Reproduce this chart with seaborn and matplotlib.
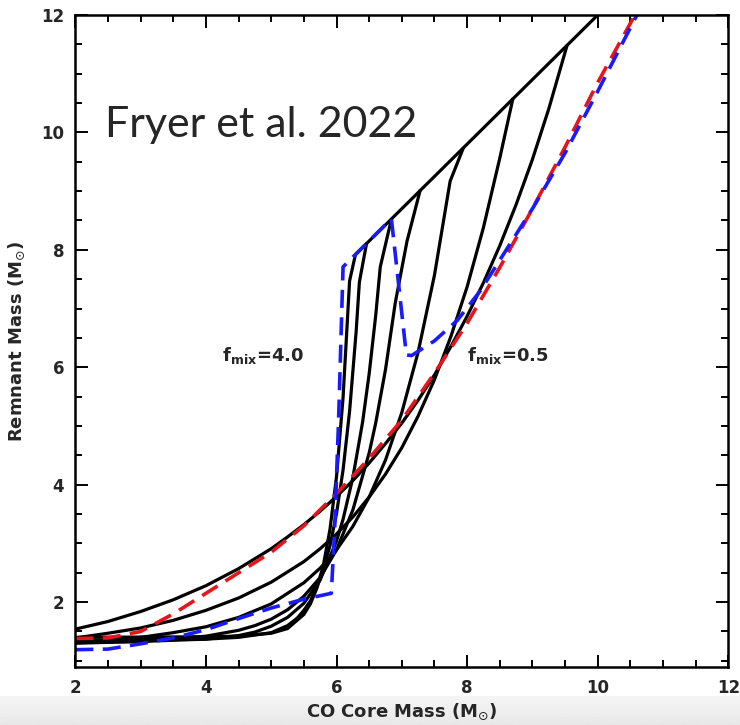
import numpy as np
import pandas as pd
import seaborn as sns
import matplotlib.pyplot as plt

# CO core mass (x) and remnant mass (y)
m_f05 = [2.0, 2.5, 3.0, 3.5, 4.0, 4.5, 5.0, 5.25, 5.5, 5.75, 6.0, 6.25, 6.5, 6.75, 7.0, 7.25,
         7.5, 7.75, 8.0, 8.25, 8.5, 8.75, 9.0, 9.25, 9.53]
r_f05 = [1.54, 1.67, 1.84, 2.04, 2.28, 2.57, 2.91, 3.11, 3.32, 3.55, 3.80, 4.07, 4.37, 4.70, 5.05, 5.44,
         5.87, 6.35, 6.87, 7.44, 8.07, 8.77, 9.54, 10.40, 11.48]

m_f07 = [2.0, 2.5, 3.0, 3.5, 4.0, 4.5, 5.0, 5.5, 5.75, 6.0, 6.25, 6.5, 6.75, 7.0, 7.25, 7.5,
         7.75, 8.0, 8.25, 8.5, 8.7]
r_f07 = [1.39, 1.47, 1.56, 1.69, 1.86, 2.07, 2.34, 2.69, 2.91, 3.16, 3.45, 3.79, 4.18, 4.63, 5.17, 5.79,
         6.52, 7.37, 8.38, 9.56, 10.57]

m_f10 = [2.0, 3.0, 3.5, 4.0, 4.5, 5.0, 5.5, 5.75, 6.0, 6.25, 6.5, 6.75, 7.0, 7.25, 7.5, 7.74, 7.94]
r_f10 = [1.31, 1.40, 1.48, 1.58, 1.74, 1.97, 2.33, 2.58, 2.89, 3.29, 3.79, 4.42, 5.23, 6.26, 7.57, 9.17, 9.73]

m_f15 = [2.0, 3.0, 4.0, 4.5, 4.75, 5.0, 5.25, 5.5, 5.75, 6.0, 6.25, 6.5, 6.6, 6.75, 6.9, 7.08, 7.28]
r_f15 = [1.30, 1.33, 1.42, 1.52, 1.60, 1.71, 1.87, 2.10, 2.42, 2.89, 3.57, 4.54, 5.05, 5.96, 7.10, 8.15, 9.01]

m_f20 = [2.0, 3.0, 4.0, 4.5, 4.75, 5.0, 5.25, 5.5, 5.75, 6.0, 6.1, 6.25, 6.4, 6.5, 6.6, 6.67, 6.84]
r_f20 = [1.31, 1.33, 1.37, 1.43, 1.49, 1.59, 1.74, 1.98, 2.38, 3.04, 3.41, 4.12, 5.07, 5.89, 6.88, 7.71, 8.52]

m_f30 = [2.0, 4.0, 4.5, 5.0, 5.25, 5.4, 5.5, 5.6, 5.75, 5.9, 6.0, 6.1, 6.2, 6.3, 6.35, 6.46]
r_f30 = [1.35, 1.37, 1.40, 1.48, 1.60, 1.73, 1.86, 2.02, 2.39, 2.96, 3.51, 4.25, 5.25, 6.60, 7.45, 8.11]

m_f40 = [2.0, 4.0, 4.5, 5.0, 5.25, 5.5, 5.6, 5.7, 5.8, 5.9, 6.0, 6.1, 6.2, 6.29]
r_f40 = [1.40, 1.41, 1.42, 1.47, 1.55, 1.79, 1.97, 2.24, 2.64, 3.24, 4.14, 5.48, 7.47, 7.92]

# upper limit (whole star collapses)
m_cap = [6.29, 10.0]
r_cap = [7.92, 12.0]

m_red = [2.0, 2.5, 3.0, 3.5, 4.0, 4.5, 5.0, 5.5, 6.0, 6.5, 7.0, 7.5, 8.0, 8.5, 9.0, 9.5, 10.0, 10.57]
r_red = [1.38, 1.39, 1.5, 1.8, 2.15, 2.5, 2.85, 3.3, 3.85, 4.45, 5.1, 5.9, 6.75, 7.7, 8.7, 9.75, 10.85, 12.0]

m_blue = [2.0, 2.5, 3.0, 3.5, 4.0, 4.5, 5.0, 5.5, 5.92, 5.97, 6.03, 6.10, 6.84, 7.07, 7.15,
          7.5, 7.85, 8.2, 8.6, 9.0, 9.5, 10.0, 10.6]
r_blue = [1.19, 1.2, 1.29, 1.39, 1.53, 1.72, 1.9, 2.05, 2.15, 3.2, 5.05, 7.71, 8.53, 6.21, 6.2,
          6.45, 6.8, 7.3, 8.0, 8.7, 9.65, 10.7, 12.0]

black_curves = [(m_f05, r_f05), (m_f07, r_f07), (m_f10, r_f10), (m_f15, r_f15),
                (m_f20, r_f20), (m_f30, r_f30), (m_f40, r_f40), (m_cap, r_cap)]

sns.set_style("ticks")
plt.rcParams["font.family"] = ["DejaVu Sans"]

fig = plt.figure(figsize=(7.4, 7.25), dpi=100)

# grey strip at the very bottom (screenshot edge)
bg = fig.add_axes([0, 0, 1, 0.04])
bg.imshow(np.linspace(0.96, 0.91, 20).reshape(-1, 1), cmap="gray", vmin=0, vmax=1,
          aspect="auto", extent=[0, 1, 0, 1])
bg.set_axis_off()
bg.set_zorder(-1)

ax = fig.add_axes([0.1018, 0.0804, 0.8824, 0.8989])

for mx, ry in black_curves:
    sns.lineplot(x=mx, y=ry, ax=ax, color="black", lw=2.3, sort=False, estimator=None)

sns.lineplot(x=m_red, y=r_red, ax=ax, color="#e8141c", lw=2.6, sort=False, estimator=None,
             linestyle=(0, (5, 2.6)))
sns.lineplot(x=m_blue, y=r_blue, ax=ax, color="#1a1aff", lw=2.6, sort=False, estimator=None,
             linestyle=(0, (5, 2.6)))

ax.set_xlim(2, 12)
ax.set_ylim(0.9, 12)
ax.set_xticks([2, 4, 6, 8, 10, 12])
ax.set_yticks([2, 4, 6, 8, 10, 12])
ax.set_xticks(np.arange(2, 12.01, 0.5), minor=True)
ax.set_yticks(np.arange(1, 12.01, 0.5), minor=True)
ax.tick_params(which="both", direction="in", top=True, right=True, width=1.4, color="black")
ax.tick_params(which="major", length=9)
ax.tick_params(which="minor", length=5)
ax.tick_params(axis="x", which="major", pad=9)
ax.tick_params(axis="y", which="major", pad=8)
for lab in ax.get_xticklabels() + ax.get_yticklabels():
    lab.set_fontweight("bold")
    lab.set_fontsize(12)
for s in ax.spines.values():
    s.set_linewidth(1.8)
    s.set_color("black")

ax.set_xlabel(r"CO Core Mass (M$_{\odot}$)", fontsize=13, fontweight="bold", labelpad=3)
ax.set_ylabel(r"Remnant Mass (M$_{\odot}$)", fontsize=13, fontweight="bold", labelpad=10)

ax.text(4.25, 6.1, r"$\mathbf{f_{mix}}$=4.0", fontsize=13, fontweight="bold")
ax.text(8.0, 6.1, r"$\mathbf{f_{mix}}$=0.5", fontsize=13, fontweight="bold")
ax.text(2.46, 9.92, "Fryer et al. 2022", fontsize=31, family="Lato", va="baseline")

fig.savefig("out.png", dpi=100)
